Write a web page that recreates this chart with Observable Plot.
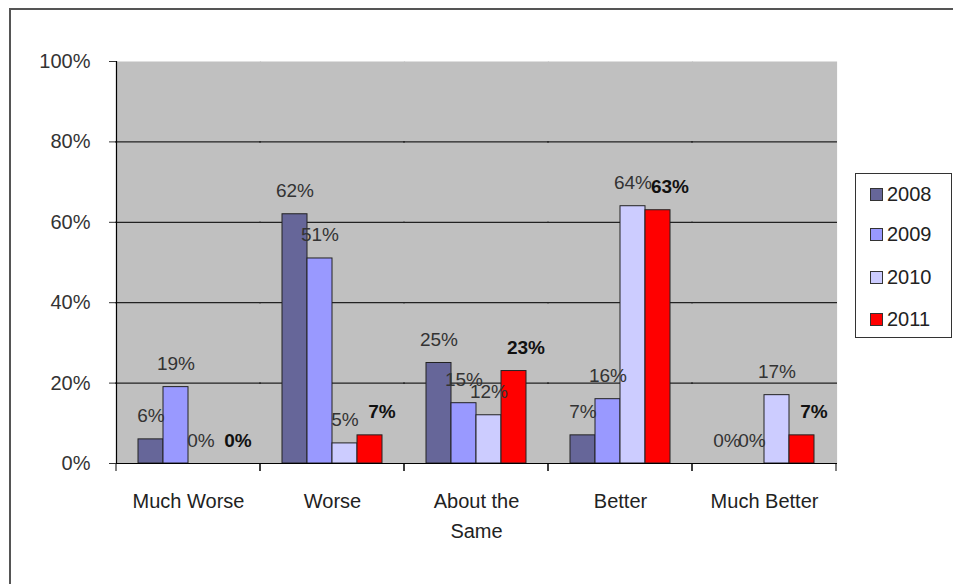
<!DOCTYPE html>
<html>
<head>
<meta charset="utf-8">
<script src="https://cdn.jsdelivr.net/npm/d3@7"></script>
<script src="https://cdn.jsdelivr.net/npm/@observablehq/plot@0.6"></script>
<style>
  body { margin: 0; background: #fff; }
  #wrap { position: relative; width: 953px; height: 584px; overflow: hidden; background: #fff;
          font-family: "Liberation Sans", Arial, sans-serif; }
  #outer { position: absolute; left: 9px; top: 8px; width: 1000px; height: 700px; border: 2px solid #555; box-sizing: border-box; }
  #chart { position: absolute; left: 0; top: 0; }
  #legend { position: absolute; left: 855px; top: 173px; width: 97px; height: 165px; border: 1px solid #333;
            box-sizing: border-box; background: #fff; }
  .item { position: absolute; left: 14px; height: 26px; display: flex; align-items: center; font-size: 20px; color: #222; }
  .sw { width: 13px; height: 13px; border: 1px solid #333; box-sizing: border-box; margin-right: 4px; }
</style>
</head>
<body>
<div id="wrap">
  <div id="outer"></div>
  <div id="chart"></div>
  <div id="legend"></div>
</div>
<script>
const categories = ["Much Worse", "Worse", "About the Same", "Better", "Much Better"];
const years = ["2008", "2009", "2010", "2011"];
const v2008 = [6, 62, 25, 7, 0];
const v2009 = [19, 51, 15, 16, 0];
const v2010 = [0, 5, 12, 64, 17];
const v2011 = [0, 7, 23, 63, 7];
const yTicks = [0, 20, 40, 60, 80, 100];
const colors = ["#666699", "#9999ff", "#ccccff", "#ff0000"];

const series = [v2008, v2009, v2010, v2011];
const data = [];
categories.forEach((c, i) => years.forEach((y, j) => data.push({cat: c, year: y, value: series[j][i]})));

const W = 953, H = 584, mt = 61, mb = 121, ml = 116, mr = 117;
const font = '"Liberation Sans", Arial, sans-serif';

// small ticks below the category axis at the edges of each category band
function boundaryTicks(index, scales, values, dims) {
  const y0 = scales.y(0);
  const g = d3.create("svg:g").attr("stroke", "#000").attr("stroke-width", 1);
  [dims.marginLeft, dims.width - dims.marginRight].forEach(x => {
    g.append("line").attr("x1", x).attr("x2", x).attr("y1", y0).attr("y2", y0 + 8);
  });
  return g.node();
}

const chart = Plot.plot({
  width: W, height: H,
  marginTop: mt, marginBottom: mb, marginLeft: ml, marginRight: mr,
  style: {fontFamily: font, background: "transparent"},
  fx: {domain: categories, paddingInner: 0, paddingOuter: 0, label: null},
  x: {domain: years, paddingInner: 0, paddingOuter: 0.77, axis: null},
  y: {domain: [0, 100], label: null},
  color: {domain: years, range: colors},
  marks: [
    Plot.frame({fill: "#c0c0c0", stroke: null, insetLeft: -0.6, insetRight: -0.6}),
    Plot.ruleY([20, 40, 60, 80], {stroke: "#222", strokeWidth: 1.2, insetLeft: -1, insetRight: -1}),
    Plot.barY(data, {fx: "cat", x: "year", y: "value", fill: "year", stroke: "#222", strokeWidth: 1}),
    Plot.ruleY([0], {stroke: "#000", strokeWidth: 1.2, insetLeft: -1, insetRight: -1}),
    Plot.frame({anchor: "left", facetAnchor: "left", stroke: "#000", strokeWidth: 1.2}),
    boundaryTicks,
    Plot.axisY({ticks: yTicks, tickSize: 7, tickPadding: 19, fontSize: 20, tickFormat: d => d + "%", color: "#333", label: null}),
    Plot.axisFx({anchor: "bottom", tickSize: 0, tickPadding: 23, fontSize: 20, lineHeight: 1.5, color: "#222",
      tickFormat: d => d === "About the Same" ? "About the\nSame" : d, label: null}),
    Plot.text(data.filter(d => d.year !== "2011"), {fx: "cat", x: "year", y: "value", text: d => d.value + "%",
      lineAnchor: "bottom", dy: -17, fontSize: 19, fill: "#333"}),
    Plot.text(data.filter(d => d.year === "2011"), {fx: "cat", x: "year", y: "value", text: d => d.value + "%",
      lineAnchor: "bottom", dy: -17, dx: 12, fontSize: 19, fontWeight: "bold", fill: "#111"})
  ]
});
document.getElementById("chart").appendChild(chart);

const legend = document.getElementById("legend");
const rowTops = [180, 220, 263, 305];
years.forEach((y, i) => {
  const it = document.createElement("div");
  it.className = "item";
  it.style.top = (rowTops[i] - 173) + "px";
  it.innerHTML = `<div class="sw" style="background:${colors[i]}"></div><span>${y}</span>`;
  legend.appendChild(it);
});
</script>
</body>
</html>
